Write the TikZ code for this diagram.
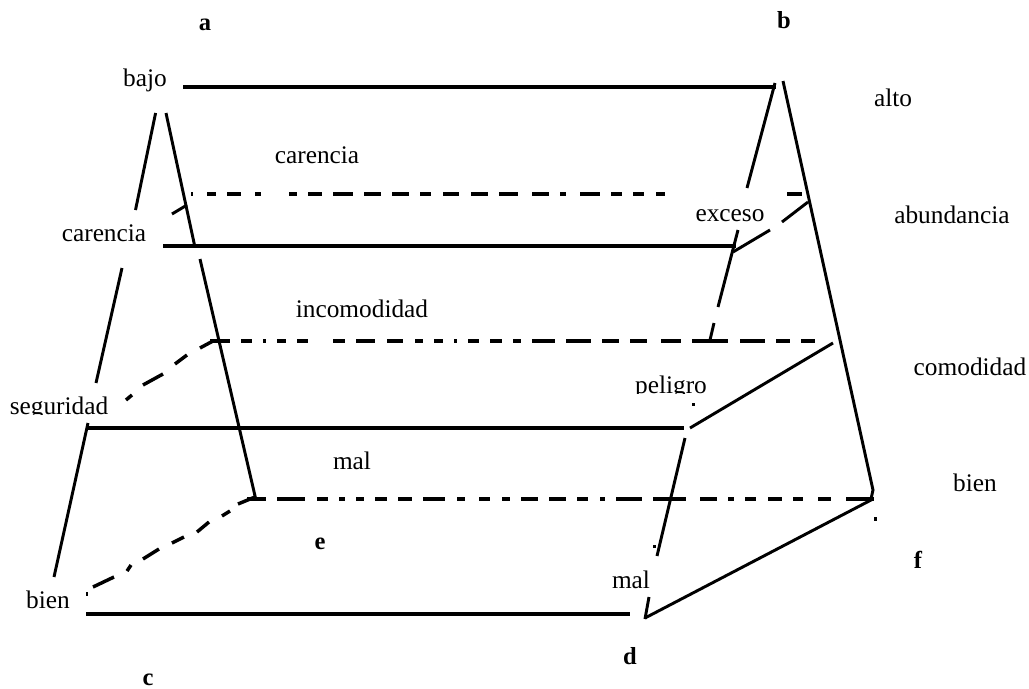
\documentclass[tikz,border=0pt]{standalone}
\usepackage{fontspec}
\setmainfont{Liberation Serif}
\tikzset{
  lab/.style={anchor=base,inner sep=0pt,font=\fontsize{19pt}{20pt}\selectfont},
  letter/.style={lab,font=\fontsize{18.4pt}{20pt}\selectfont\bfseries},
  mask/.style={fill=white,draw=none},
  heavy/.style={line width=3pt,black},
  slant/.style={line width=2.2pt,black},
  broken/.style={line width=3pt,black},
}
\begin{document}
\begin{tikzpicture}[x=0.75pt,y=-0.75pt]
\useasboundingbox (0,0) rectangle (1029,689);
\fill[white] (0,0) rectangle (1029,689);
% labels
\node[letter] (la) at (205,30) {a};
\node[letter] (lb) at (784,28) {b};
\node[letter] (lc) at (148,685) {c};
\node[letter] (ld) at (630,664) {d};
\node[letter] (le) at (320,549) {e};
\node[letter] (lf) at (918,568) {f};
\node[lab] (bajo) at (145,86) {bajo};
\node[lab] (alto) at (893,106) {alto};
\node[lab] (car1) at (317,163) {carencia};
\node[lab] (car2) at (104,241) {carencia};
\node[lab] (exc) at (730,221) {exceso};
\node[lab] (abu) at (952,223) {abundancia};
\node[lab] (inc) at (362,317) {incomodidad};
\node[lab] (com) at (970,375) {comodidad};
\node[lab] (pel) at (671,393) {peligro};
\node[lab] (seg) at (59,414) {seguridad};
\node[lab] (mal1) at (352,469) {mal};
\node[lab] (bie1) at (975,491) {bien};
\node[lab] (bie2) at (48,608) {bien};
\node[lab] (mal2) at (631,588) {mal};
% clipped descenders
\fill[mask] (5,415) rectangle (115,424);
\fill[mask] (630,394) rectangle (690,403);
% end points
\coordinate (h1a) at (183,87);  \coordinate (h1b) at (776,87);
\coordinate (h2a) at (163,245.5); \coordinate (h2b) at (736,245.5);
\coordinate (h3a) at (86,428);  \coordinate (h3b) at (684,428);
\coordinate (h4a) at (86,614);  \coordinate (h4b) at (630,614);
% solid horizontals
\draw[heavy] (h1a) -- (h1b);
\draw[heavy] (h2a) -- (h2b);
\draw[heavy] (h3a) -- (h3b);
\draw[heavy] (h4a) -- (h4b);
% broken horizontals
\foreach \a/\b in {191/193,207/216,227/241,255/261,289/297,308/322,333/353,364/381,392/409,420/431,443/459,471/488,499/518,532/549,560/566,580/600,611/622,633/644,656/665,787/802}
  \draw[broken] (\a,194) -- (\b,194);
\foreach \a/\b in {210/230,241/252,263/266,277/286,297/308,333/345,356/375,387/403,415/423,434/443,454/457,468/479,490/502,513/521,532/555,566/591,602/619,630/647,661/681,692/728,740/765,776/790,801/815}
  \draw[broken] (\a,341) -- (\b,341);
\foreach \a/\b in {247/266,277/305,317/328,339/345,356/364,375/387,398/412,423/445,457/465,479/490,502/510,521/538,549/566,577/588,600/605,616/642,653/686,700/717,728/734,745/756,768/782,793/803,818/831,846/874}
  \draw[broken] (\a,499) -- (\b,499);
% left pyramid, outer edge
\coordinate (l1) at (155.6,113); \coordinate (l2) at (135.5,210);
\coordinate (l3) at (122,268);   \coordinate (l4) at (96,383);
\coordinate (l5) at (88,423);    \coordinate (l6) at (54,577);
\draw[slant] (l1) -- (l2);
\draw[slant] (l3) -- (l4);
\draw[slant] (l5) -- (l6);
% left pyramid, inner edge
\coordinate (m1) at (166,113);  \coordinate (m2) at (194.5,245);
\coordinate (m3) at (200,259);  \coordinate (m4) at (255.5,498);
\draw[slant] (m1) -- (m2);
\draw[slant] (m3) -- (m4);
% receding edges, left
\coordinate (r1) at (172,214);  \coordinate (r2) at (187,205);
\draw[slant] (r1) -- (r2);
\foreach \xa/\ya/\xb/\yb in {213/341/200/348,187/355/175/364,163/374/143/385,132/395/126/400,
  255/497/238/504,230/511/222/516,209/522/197/532,184/537/172/543,159/549/143/559,131/565/127/571,114/577/93/587}
  \draw[slant,line width=2.6pt] (\xa,\ya) -- (\xb,\yb);
\coordinate (r7) at (87,592);   \coordinate (r8) at (87,596);
\draw[line width=1pt] (r7) -- (r8);
% right pyramid, inner edge
\coordinate (n1) at (775,83);   \coordinate (n2) at (747,188);
\coordinate (n3) at (738,230);  \coordinate (n4) at (718,307);
\coordinate (n5) at (714,323);  \coordinate (n6) at (710,340);
\coordinate (n7) at (685,438);  \coordinate (n8) at (657,556);
\coordinate (n9) at (649,597);  \coordinate (n10) at (645,619);
\draw[slant] (n1) -- (n2);
\draw[slant] (n3) -- (n4);
\draw[slant] (n5) -- (n6);
\draw[slant] (n7) -- (n8);
\draw[slant] (n9) -- (n10);
% right pyramid, outer edge
\coordinate (o1) at (783,81);  \coordinate (o2) at (873,490);
\coordinate (o3) at (871,499);
\draw[slant] (o1) -- (o2) -- (o3);
% receding edges, right
\coordinate (q1) at (733,252); \coordinate (q2) at (770,230);
\coordinate (q3) at (782,222); \coordinate (q4) at (808,202);
\draw[slant] (q1) -- (q2);
\draw[slant] (q3) -- (q4);
\coordinate (q5) at (690,428); \coordinate (q6) at (833,343);
\draw[slant] (q5) -- (q6);
\coordinate (q7) at (645,618); \coordinate (q8) at (873,499);
\draw[slant] (q7) -- (q8);
% stray specks
\fill (691.5,402.5) rectangle (695,405.5);
\fill (873.5,517) rectangle (876.5,521);
\fill (653,544.5) rectangle (656,548);
\end{tikzpicture}
\end{document}
